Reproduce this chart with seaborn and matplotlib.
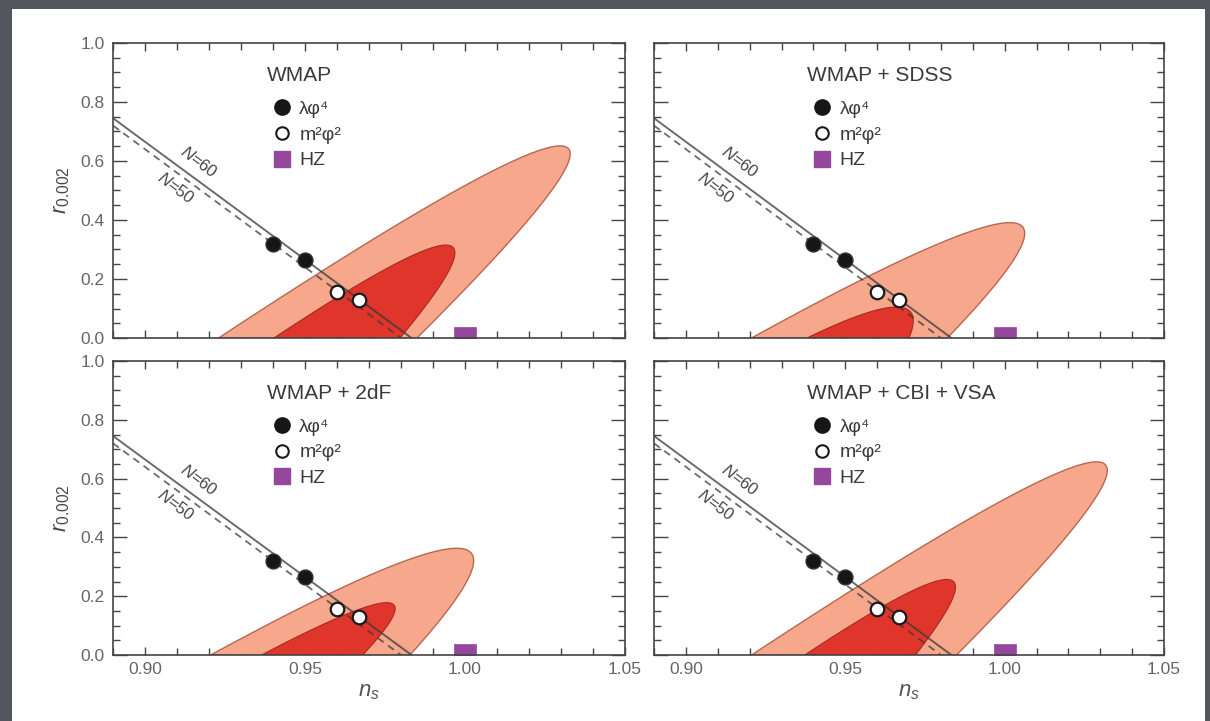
"""
Tensor-to-scalar ratio vs spectral index: WMAP and combined constraints.
"""

import matplotlib
matplotlib.use("Agg")
import matplotlib.pyplot as plt
import seaborn as sns
import numpy as np
from matplotlib.lines import Line2D
from matplotlib.patches import Rectangle
from matplotlib.ticker import MultipleLocator, FormatStrFormatter

# ---- data ----
panel_titles = ["WMAP", "WMAP + SDSS", "WMAP + 2dF", "WMAP + CBI + VSA"]

# 95% region: n_s where it meets r=0 (left/right), and its top point
outer_left = [0.923, 0.9206, 0.9205, 0.9206]
outer_right = [0.985, 0.982, 0.9828, 0.9849]
outer_top_ns = [1.0297, 1.0016, 0.9974, 1.0288]
outer_top_r = [0.651, 0.391, 0.363, 0.657]

# 68% region
inner_left = [0.9403, 0.938, 0.9364, 0.9373]
inner_right = [0.9797, 0.970, 0.968, 0.972]
inner_top_ns = [0.994, 0.966, 0.9755, 0.9818]
inner_top_r = [0.315, 0.105, 0.178, 0.257]

# model predictions
lphi4_ns = [0.940, 0.950]
lphi4_r = [0.32, 0.265]
m2phi2_ns = [0.960, 0.967]
m2phi2_r = [0.155, 0.13]
hz_ns = [1.0]
hz_r = [0.0]

# N=60 / N=50 lines
n60_ns = [0.89, 0.9833]
n60_r = [0.745, 0.0]
n50_ns = [0.89, 0.980]
n50_r = [0.72, 0.0]

colors = {
    'outer': '#f7a88c',
    'outer_edge': '#b8674f',
    'inner': '#e0352b',
    'inner_edge': '#a82a22',
    'hz': '#94479c',
    'line': '#3a3a3a',
    'text': '#454545',
}


def region(n_left, n_right, n_top, r_top, num=240):
    """Boundary of a confidence region cut at r=0."""
    t = np.linspace(0.0, np.pi, num)
    nc = 0.5 * (n_left + n_right)
    w0 = 0.5 * (n_right - n_left)
    shift = n_top - nc
    ns = nc + w0 * np.cos(t) + shift * np.sin(t) ** 2
    r = r_top * np.sin(t) ** 2
    return ns, r


sns.set_theme(style="ticks")
plt.rcParams['font.family'] = ['Liberation Sans', 'DejaVu Sans']
plt.rcParams['mathtext.fontset'] = 'custom'
plt.rcParams['mathtext.rm'] = 'Liberation Sans'
plt.rcParams['mathtext.it'] = 'Liberation Sans:italic'

fig = plt.figure(figsize=(12.1, 7.21), dpi=100)
fig.patch.set_facecolor('#53565d')
fig.patches.append(Rectangle((12 / 1210, 0), 1193 / 1210, 1 - 9 / 721,
                             transform=fig.transFigure, facecolor='white',
                             edgecolor='none', zorder=-10))

positions = [
    [0.0934, 0.5312, 0.4231, 0.4092],
    [0.5405, 0.5312, 0.4215, 0.4092],
    [0.0934, 0.0915, 0.4231, 0.4078],
    [0.5405, 0.0915, 0.4215, 0.4078],
]

for idx, pos in enumerate(positions):
    ax = fig.add_axes(pos)
    ax.set_facecolor('white')

    # confidence regions
    ns, r = region(outer_left[idx], outer_right[idx], outer_top_ns[idx], outer_top_r[idx])
    ax.fill(ns, r, facecolor=colors['outer'], edgecolor=colors['outer_edge'],
            linewidth=1.0, zorder=1)
    ns, r = region(inner_left[idx], inner_right[idx], inner_top_ns[idx], inner_top_r[idx])
    ax.fill(ns, r, facecolor=colors['inner'], edgecolor=colors['inner_edge'],
            linewidth=0.8, zorder=2)

    # N lines
    sns.lineplot(x=n60_ns, y=n60_r, ax=ax, color=colors['line'], linewidth=1.4,
                 alpha=0.75, zorder=3)
    sns.lineplot(x=n50_ns, y=n50_r, ax=ax, color=colors['line'], linewidth=1.3,
                 alpha=0.75, linestyle=(0, (4, 3)), zorder=3)
    ax.text(0.9168, 0.596, '$N$=60', rotation=-37, ha='center', va='center',
            rotation_mode='anchor', fontsize=12, color=colors['text'])
    ax.text(0.9095, 0.510, '$N$=50', rotation=-37, ha='center', va='center',
            rotation_mode='anchor', fontsize=12, color=colors['text'])

    # model points
    sns.scatterplot(x=lphi4_ns, y=lphi4_r, ax=ax, s=115, marker='o',
                    color='#161616', edgecolor='#333333', linewidth=1.0, zorder=5)
    sns.scatterplot(x=m2phi2_ns, y=m2phi2_r, ax=ax, s=95, marker='o',
                    color='white', edgecolor='#1a1a1a', linewidth=1.6, zorder=5)
    sns.scatterplot(x=hz_ns, y=hz_r, ax=ax, s=260, marker='s',
                    color=colors['hz'], edgecolor=colors['hz'], linewidth=0.5, zorder=5)

    # panel title and legend
    ax.text(0.300, 0.89, panel_titles[idx], transform=ax.transAxes,
            ha='left', va='center', fontsize=15, color='#3a3a3a')
    handles = [
        Line2D([], [], marker='o', linestyle='none', markersize=11,
               markerfacecolor='#161616', markeredgecolor='#161616'),
        Line2D([], [], marker='o', linestyle='none', markersize=9,
               markerfacecolor='white', markeredgecolor='#1a1a1a', markeredgewidth=1.5),
        Line2D([], [], marker='s', linestyle='none', markersize=12,
               markerfacecolor=colors['hz'], markeredgecolor=colors['hz']),
    ]
    leg = ax.legend(handles, ['λφ⁴', 'm²φ²', 'HZ'],
                    loc='upper left', bbox_to_anchor=(0.3105, 0.806),
                    frameon=False, fontsize=14,
                    handlelength=1.0, handletextpad=0.4, labelspacing=0.42,
                    borderpad=0, borderaxespad=0)
    for txt in leg.get_texts():
        txt.set_color('#3a3a3a')

    # axes styling
    ax.set_xlim(0.89, 1.05)
    ax.set_ylim(0.0, 1.0)
    ax.xaxis.set_major_locator(MultipleLocator(0.05))
    ax.xaxis.set_minor_locator(MultipleLocator(0.01))
    ax.yaxis.set_major_locator(MultipleLocator(0.2))
    ax.yaxis.set_minor_locator(MultipleLocator(0.05))
    ax.xaxis.set_major_formatter(FormatStrFormatter('%.2f'))
    ax.yaxis.set_major_formatter(FormatStrFormatter('%.1f'))
    ax.tick_params(axis='both', which='both', direction='in', top=True, right=True,
                   color='#444444', labelcolor='#666666', labelsize=12.5)
    ax.tick_params(axis='x', which='major', length=6, width=1.0, pad=5)
    ax.tick_params(axis='x', which='minor', length=5, width=1.0)
    ax.tick_params(axis='y', which='major', length=10, width=1.0, pad=6)
    ax.tick_params(axis='y', which='minor', length=5, width=1.0)
    for spine in ax.spines.values():
        spine.set_color('#444444')
        spine.set_linewidth(1.2)
        spine.set_zorder(6)

    if idx in (0, 2):
        ax.set_ylabel('$r_{0.002}$', fontsize=16, color='#484848', labelpad=6)
    else:
        ax.tick_params(axis='y', labelleft=False)
        ax.set_ylabel('')
    if idx in (2, 3):
        ax.set_xlabel('$n_s$', fontsize=16, color='#555555', labelpad=3)
    else:
        ax.tick_params(axis='x', labelbottom=False)
        ax.set_xlabel('')

fig.savefig('out.png', dpi=100, facecolor=fig.get_facecolor())
